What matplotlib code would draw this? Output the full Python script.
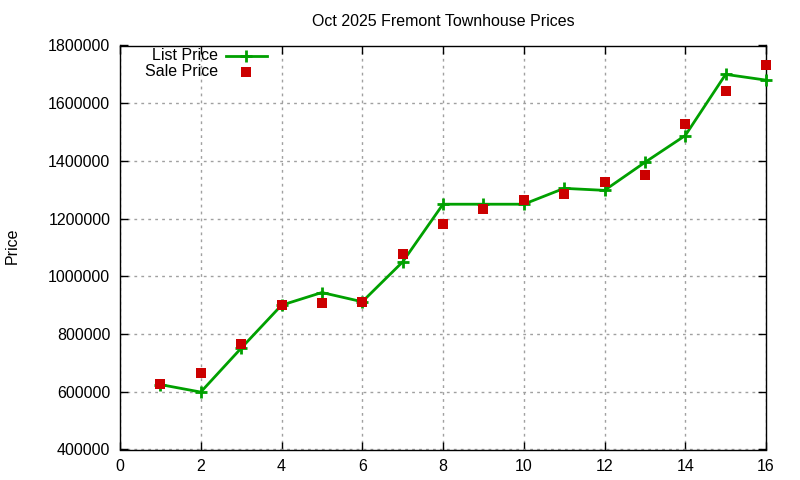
import numpy as np
import matplotlib
matplotlib.use("Agg")
import matplotlib.pyplot as plt
from matplotlib.lines import Line2D

plt.rcParams['font.family'] = ['Liberation Sans', 'DejaVu Sans']

# data
listing_no = [1, 2, 3, 4, 5, 6, 7, 8, 9, 10, 11, 12, 13, 14, 15, 16]
list_price = [625000, 599000, 751000, 900000, 944000, 912000, 1050000, 1250000,
              1250000, 1250000, 1305000, 1298000, 1395000, 1488000, 1700000, 1680000]
sale_price = [626000, 664000, 767000, 901000, 906000, 912000, 1077000, 1181000,
              1233000, 1264000, 1284000, 1327000, 1350000, 1527000, 1643000, 1733000]

x_ticks = np.arange(0, 17, 2)
y_ticks = np.arange(400000, 1800001, 200000)

GREEN = '#00a000'
RED = '#cc0000'

fig = plt.figure(figsize=(8, 4.8), dpi=100)
ax = fig.add_axes([120/800, 1 - 449.5/480, 646/800, 404/480])

ax.plot(listing_no, list_price, color=GREEN, linewidth=2, marker='+',
        markersize=9, markeredgewidth=2, zorder=3, clip_on=False)
ax.plot(listing_no, sale_price, linestyle='none', marker='s', markersize=6.5,
        color=RED, markeredgewidth=0, zorder=4, clip_on=False)

ax.set_xlim(0, 16)
ax.set_ylim(400000, 1800000)
ax.set_xticks(x_ticks)
ax.set_yticks(y_ticks)
ax.ticklabel_format(style='plain', axis='y', useOffset=False)
ax.tick_params(direction='in', length=6, width=1, labelsize=11.5,
               top=True, right=True, pad=7)
ax.grid(True, color='#a0a0a0', linestyle=(0, (2, 3)), linewidth=1)
for s in ax.spines.values():
    s.set_linewidth(1)

ax.set_title('Oct 2025 Fremont Townhouse Prices', fontsize=11.5, pad=14)
fig.text(12/800, 1 - 246/480, 'Price', rotation=90, fontsize=11.5,
         ha='center', va='center')

# gnuplot-style key: right-aligned labels, sample to the right
key_rows = [('List Price', 56), ('Sale Price', 72)]
for label, py in key_rows:
    fig.text(218/800, 1 - py/480, label, fontsize=11.5, ha='right', va='center')
y_list = 1 - 56/480
y_sale = 1 - 72/480
fig.add_artist(Line2D([226/800, 267/800], [y_list, y_list], color=GREEN,
                      linewidth=2, transform=fig.transFigure))
fig.add_artist(Line2D([246/800], [y_list], color=GREEN, marker='+',
                      markersize=9, markeredgewidth=2, transform=fig.transFigure))
fig.add_artist(Line2D([246/800], [y_sale], color=RED, marker='s', markersize=6.5,
                      markeredgewidth=0, linestyle='none', transform=fig.transFigure))

fig.savefig('out.png', dpi=100)
